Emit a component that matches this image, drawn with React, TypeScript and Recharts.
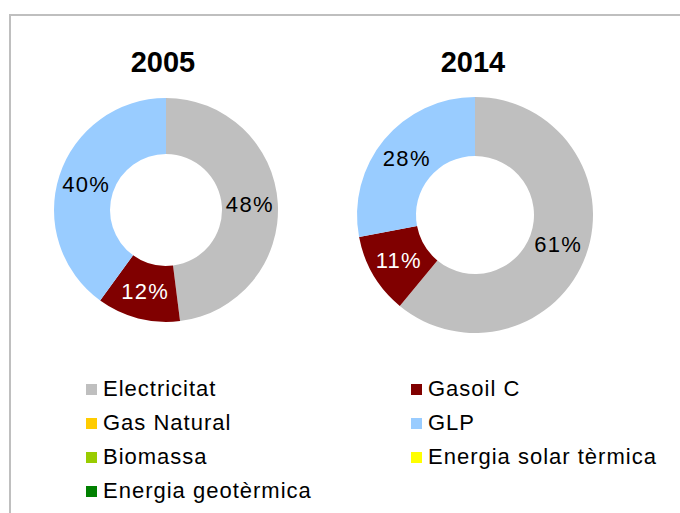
import React from 'react';
import { PieChart, Pie, Cell } from 'recharts';

const categories = [
  'Electricitat',
  'Gasoil C',
  'Gas Natural',
  'GLP',
  'Biomassa',
  'Energia solar tèrmica',
  'Energia geotèrmica',
];
const colors = ['#BFBFBF', '#800000', '#FFCC00', '#99CCFF', '#99CC00', '#FFFF00', '#008000'];
const values2005 = [48, 12, 0, 40, 0, 0, 0];
const values2014 = [61, 11, 0, 28, 0, 0, 0];
const years = ['2005', '2014'];

const FONT = '"Liberation Sans", Arial, sans-serif';

const toRows = (values: number[]) => categories.map((name, i) => ({ name, value: values[i] }));

const RADIAN = Math.PI / 180;

const renderLabel = (props: any) => {
  const { cx, cy, midAngle, innerRadius, outerRadius, value, index } = props;
  if (!value) return null;
  const r = (innerRadius + outerRadius) / 2;
  const x = cx + r * Math.cos(-midAngle * RADIAN);
  const y = cy + r * Math.sin(-midAngle * RADIAN);
  return (
    <text
      x={x}
      y={y}
      textAnchor="middle"
      dominantBaseline="central"
      fill={index === 1 ? '#FFFFFF' : '#000000'}
      style={{ fontFamily: FONT, fontSize: 22, letterSpacing: 1.3 }}
    >
      {`${value}%`}
    </text>
  );
};

const legendPos = [
  { x: 86, y: 389 },
  { x: 411, y: 389 },
  { x: 86, y: 423 },
  { x: 411, y: 423 },
  { x: 86, y: 457 },
  { x: 411, y: 457 },
  { x: 86, y: 491 },
];

export default function App() {
  return (
    <div style={{ position: 'absolute', left: 0, top: 0, width: 680, height: 513, background: '#fff', overflow: 'hidden' }}>
      <div
        style={{
          position: 'absolute',
          left: 9,
          top: 14,
          width: 700,
          height: 520,
          borderTop: '2px solid #BFBFBF',
          borderLeft: '2px solid #BFBFBF',
        }}
      />
      <PieChart width={680} height={513} margin={{ top: 0, right: 0, bottom: 0, left: 0 }} style={{ position: 'absolute', left: 0, top: 0 }}>
        <Pie
          data={toRows(values2005)}
          dataKey="value"
          nameKey="name"
          cx={166}
          cy={210}
          innerRadius={56}
          outerRadius={112}
          startAngle={90}
          endAngle={-270}
          stroke="none"
          labelLine={false}
          label={renderLabel}
          isAnimationActive={false}
        >
          {categories.map((c, i) => (
            <Cell key={c} fill={colors[i]} />
          ))}
        </Pie>
        <Pie
          data={toRows(values2014)}
          dataKey="value"
          nameKey="name"
          cx={475}
          cy={215}
          innerRadius={59}
          outerRadius={118}
          startAngle={90}
          endAngle={-270}
          stroke="none"
          labelLine={false}
          label={renderLabel}
          isAnimationActive={false}
        >
          {categories.map((c, i) => (
            <Cell key={c} fill={colors[i]} />
          ))}
        </Pie>
      </PieChart>
      {years.map((y, i) => (
        <div
          key={y}
          style={{
            position: 'absolute',
            left: i === 0 ? 113 : 423,
            top: 44,
            width: 100,
            textAlign: 'center',
            fontFamily: FONT,
            fontWeight: 'bold',
            fontSize: 29,
            lineHeight: '36px',
          }}
        >
          {y}
        </div>
      ))}
      {categories.map((c, i) => (
        <div
          key={c}
          style={{
            position: 'absolute',
            left: legendPos[i].x,
            top: legendPos[i].y - 14,
            height: 28,
            display: 'flex',
            alignItems: 'center',
            fontFamily: FONT,
            fontSize: 22,
            letterSpacing: 1,
            whiteSpace: 'nowrap',
          }}
        >
          <span style={{ display: 'inline-block', width: 11, height: 11, background: colors[i], marginRight: 6 }} />
          {c}
        </div>
      ))}
    </div>
  );
}
